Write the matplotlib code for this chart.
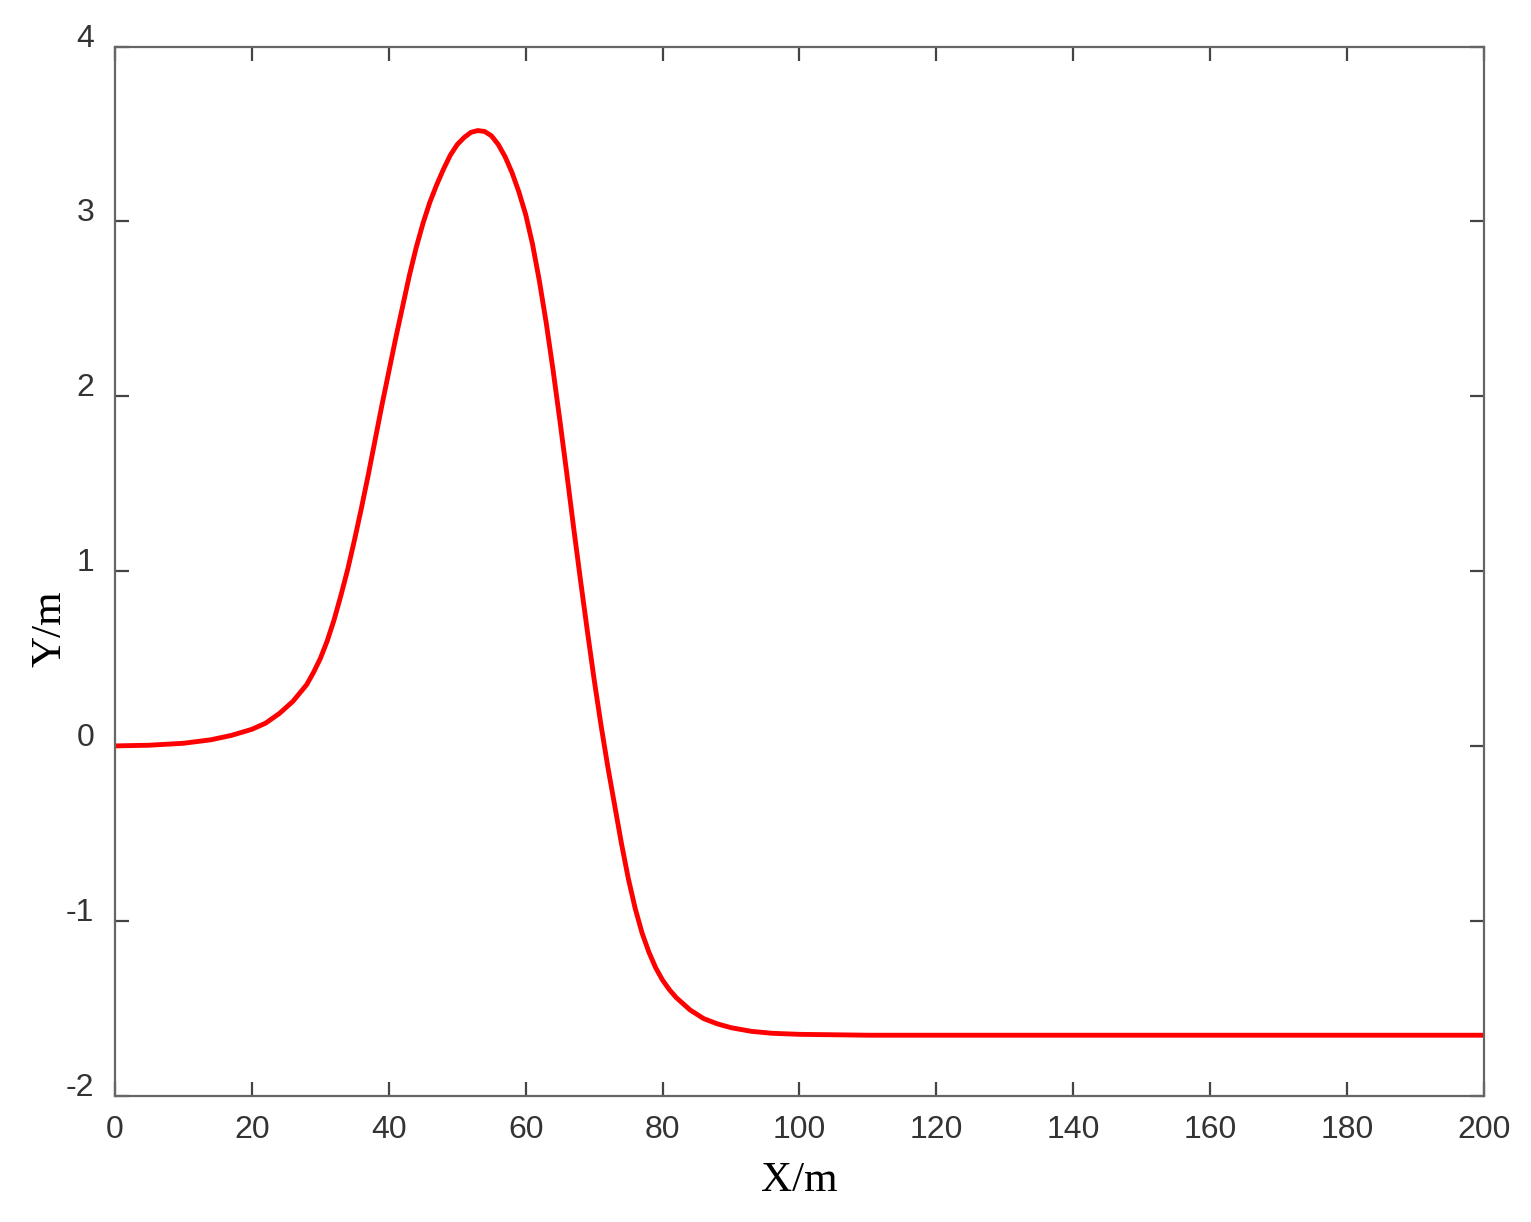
import matplotlib
matplotlib.use('Agg')
import matplotlib.pyplot as plt

# curve (x in m, y in m)
x_m = [0, 5, 10, 14, 17, 20, 22, 24, 26, 28, 29, 30, 31, 32, 33, 34, 35, 36, 37, 38, 39,
       40, 41, 42, 43, 44, 45, 46, 47, 48, 49, 50, 51, 52, 53, 54, 55, 56, 57, 58, 59,
       60, 61, 62, 63, 64, 65, 66, 67, 68, 69, 70, 71, 72, 73, 74, 75, 76, 77, 78, 79,
       80, 81, 82, 84, 86, 88, 90, 93, 96, 100, 110, 130, 160, 200]
y_m = [0.0, 0.004, 0.015, 0.035, 0.06, 0.095, 0.13, 0.185, 0.255, 0.35, 0.42, 0.50,
       0.60, 0.72, 0.86, 1.01, 1.18, 1.36, 1.55, 1.75, 1.95, 2.14, 2.33, 2.51, 2.69,
       2.85, 2.99, 3.11, 3.21, 3.30, 3.38, 3.44, 3.48, 3.51, 3.52, 3.515, 3.49, 3.44,
       3.37, 3.28, 3.17, 3.04, 2.87, 2.66, 2.42, 2.15, 1.86, 1.56, 1.25, 0.95, 0.66,
       0.38, 0.12, -0.12, -0.34, -0.56, -0.76, -0.93, -1.07, -1.18, -1.27, -1.34,
       -1.395, -1.44, -1.51, -1.56, -1.59, -1.612, -1.633, -1.644, -1.65, -1.655,
       -1.655, -1.655, -1.655]

x_ticks = [0, 20, 40, 60, 80, 100, 120, 140, 160, 180, 200]
y_ticks = [-2, -1, 0, 1, 2, 3, 4]

fig = plt.figure(figsize=(15.31, 12.22), dpi=100)
ax = fig.add_axes([0.0751, 0.1035, 0.8942, 0.8583])

ax.plot(x_m, y_m, color='red', linewidth=3.5, solid_joinstyle='round')

ax.set_xlim(0, 200)
ax.set_ylim(-2, 4)
ax.set_xticks(x_ticks)
ax.set_yticks(y_ticks)
ax.set_xticklabels([str(v) for v in x_ticks], family='Liberation Sans', fontsize=23, color='#333333')
ax.set_yticklabels([str(v) for v in y_ticks], family='Liberation Sans', fontsize=23, color='#333333',
                   va='baseline')

ax.tick_params(direction='in', length=10, width=1.6, color='#444444',
               top=True, right=True, pad=14)
ax.tick_params(axis='y', pad=15)
for s in ax.spines.values():
    s.set_color('#666666')
    s.set_linewidth(1.6)

ax.set_xlabel('X/m', family='Liberation Serif', fontsize=31, labelpad=12)
ax.set_ylabel('Y/m', family='Liberation Serif', fontsize=31)
ax.yaxis.set_label_coords(-0.033, 0.445)

fig.savefig('out.png', dpi=100, facecolor='white')
